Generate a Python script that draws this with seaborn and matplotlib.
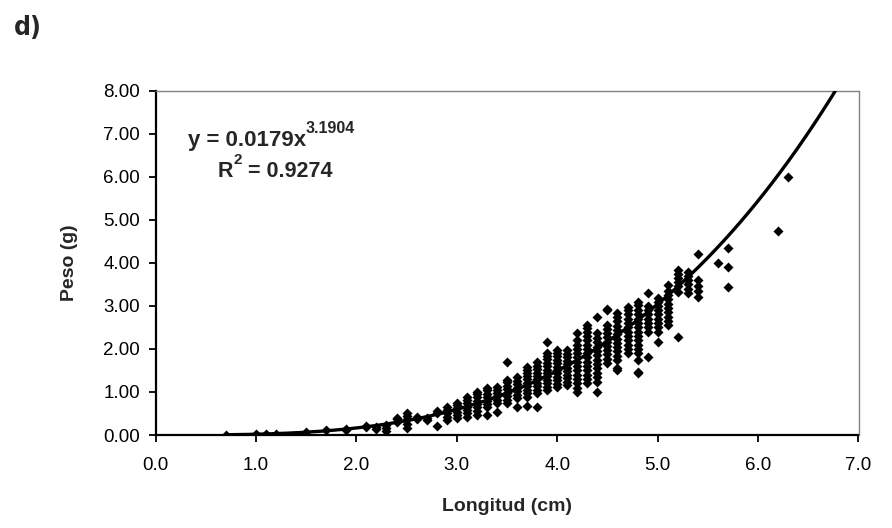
import numpy as np
import pandas as pd
import matplotlib
matplotlib.use("Agg")
import matplotlib.pyplot as plt
import seaborn as sns

########
# Data
########
# length classes (cm) and the weights (g) read off each column of diamonds
col_longitud = [0.7, 1.0, 1.1, 1.2, 1.5, 1.7, 1.9, 2.1, 2.2, 2.3, 2.4, 2.5, 2.6, 2.7, 2.8, 2.9,
                3.0, 3.1, 3.2, 3.3, 3.4, 3.5, 3.6, 3.7, 3.8, 3.9,
                4.0, 4.1, 4.2, 4.3, 4.4, 4.5, 4.6, 4.7, 4.8, 4.9,
                5.0, 5.1, 5.2, 5.3, 5.4, 5.6, 5.7, 6.2, 6.3]
col_peso = [
    [0.01], [0.02], [0.03], [0.03], [0.06], [0.12], [0.12, 0.15],
    [0.19, 0.22], [0.14, 0.19], [0.10, 0.17, 0.24],
    [0.31, 0.36, 0.40],
    [0.16, 0.25, 0.38, 0.45, 0.51],
    [0.37, 0.42], [0.34, 0.40], [0.22, 0.50, 0.56],
    [0.35, 0.42, 0.50, 0.58, 0.66],
    [0.39, 0.46, 0.54, 0.62, 0.70, 0.74],
    [0.42, 0.50, 0.58, 0.66, 0.74, 0.82, 0.88],
    [0.46, 0.55, 0.64, 0.72, 0.80, 0.88, 0.96, 1.00],
    [0.46, 0.65, 0.72, 0.80, 0.88, 0.96, 1.04, 1.09],
    [0.54, 0.74, 0.82, 0.90, 0.98, 1.05, 1.11],
    [0.74, 0.82, 0.90, 0.98, 1.06, 1.14, 1.22, 1.28, 1.70],
    [0.66, 0.86, 0.94, 1.02, 1.10, 1.18, 1.26, 1.35],
    [0.68, 0.89, 0.97, 1.05, 1.13, 1.21, 1.29, 1.37, 1.45, 1.52, 1.59],
    [0.66, 0.97, 1.05, 1.13, 1.21, 1.29, 1.37, 1.45, 1.53, 1.61, 1.70],
    [1.04, 1.12, 1.20, 1.28, 1.36, 1.44, 1.52, 1.60, 1.68, 1.76, 1.84, 1.90, 2.17],
    [1.11, 1.19, 1.27, 1.35, 1.43, 1.51, 1.59, 1.67, 1.75, 1.83, 1.91, 1.97],
    [1.16, 1.24, 1.32, 1.40, 1.48, 1.56, 1.64, 1.72, 1.80, 1.88, 1.97],
    [1.00, 1.09, 1.20, 1.30, 1.40, 1.50, 1.60, 1.70, 1.80, 1.90, 2.00, 2.10, 2.20, 2.37],
    [1.20, 1.30, 1.40, 1.50, 1.60, 1.70, 1.80, 1.90, 2.00, 2.10, 2.20, 2.30, 2.40, 2.48, 2.55],
    [1.00, 1.24, 1.35, 1.45, 1.55, 1.65, 1.75, 1.85, 1.95, 2.05, 2.15, 2.25, 2.37, 2.75],
    [1.67, 1.77, 1.87, 1.97, 2.07, 2.17, 2.27, 2.37, 2.47, 2.55, 2.90, 2.93],
    [1.51, 1.55, 1.74, 1.84, 1.94, 2.04, 2.14, 2.24, 2.34, 2.44, 2.54, 2.64, 2.74, 2.83],
    [1.90, 2.00, 2.10, 2.20, 2.30, 2.40, 2.50, 2.60, 2.70, 2.80, 2.90, 2.98],
    [1.44, 1.47, 1.74, 1.90, 2.00, 2.10, 2.20, 2.30, 2.40, 2.50, 2.60, 2.70, 2.80, 2.90, 3.03, 3.10],
    [1.82, 2.40, 2.50, 2.60, 2.70, 2.80, 2.90, 3.00, 3.29],
    [2.17, 2.40, 2.50, 2.60, 2.70, 2.80, 2.90, 3.00, 3.10, 3.18],
    [2.55, 2.65, 2.75, 2.85, 2.95, 3.05, 3.15, 3.25, 3.35, 3.48],
    [2.28, 3.33, 3.45, 3.55, 3.65, 3.75, 3.83],
    [3.30, 3.40, 3.50, 3.60, 3.70, 3.79],
    [3.20, 3.35, 3.45, 3.60, 4.20],
    [4.00], [3.44, 3.91, 4.34], [4.74], [6.00],
]

# fitted power trendline shown on the chart
coef_a = 0.0179
coef_b = 3.1904
r2 = 0.9274
trend_from, trend_to = 0.7, 6.8

x_ticks = [0, 1, 2, 3, 4, 5, 6, 7]
y_ticks = [0, 1, 2, 3, 4, 5, 6, 7, 8]

rows = [(x, y) for x, ys in zip(col_longitud, col_peso) for y in ys]
df = pd.DataFrame(rows, columns=["longitud", "peso"])

trend_x = np.linspace(trend_from, trend_to, 300)
trend_df = pd.DataFrame({"longitud": trend_x, "peso": coef_a * trend_x ** coef_b})

########
# Plot
########
sns.set_theme(style="ticks")
plt.rcParams["font.family"] = ["Liberation Sans", "DejaVu Sans"]

fig = plt.figure(figsize=(8.92, 5.28), dpi=100)
ax = fig.add_axes([155.5 / 892, 93 / 528, 703 / 892, 344.5 / 528])

sns.scatterplot(data=df, x="longitud", y="peso", marker="D", s=26,
                color="black", linewidth=0, ax=ax, zorder=3)
sns.lineplot(data=trend_df, x="longitud", y="peso", color="black",
             linewidth=2.4, sort=False, estimator=None, ax=ax, zorder=4)

ax.set_xlim(0, 7)
ax.set_ylim(0, 8)
ax.set_xticks(x_ticks)
ax.set_yticks(y_ticks)
ax.set_xticklabels([f"{v:.1f}" for v in x_ticks])
ax.set_yticklabels([f"{v:.2f}" for v in y_ticks])
ax.tick_params(direction="out", length=5, width=1.3, colors="black",
               labelsize=13.5)
ax.tick_params(axis="x", pad=11)
ax.tick_params(axis="y", pad=6)

for side in ["left", "bottom"]:
    ax.spines[side].set_color("black")
    ax.spines[side].set_linewidth(1.6)
for side in ["top", "right"]:
    ax.spines[side].set_visible(True)
    ax.spines[side].set_color("#808080")
    ax.spines[side].set_linewidth(1.0)

ax.set_xlabel("Longitud (cm)", fontsize=14, fontweight="bold")
ax.set_ylabel("Peso (g)", fontsize=14, fontweight="bold")
ax.xaxis.set_label_coords(0.5, -0.183)
ax.yaxis.set_label_coords(-0.11, 0.5)

# trendline equation, superscripts as separate small texts
eq = ax.text(0.046, 0.856, f"y = {coef_a}x", transform=ax.transAxes,
             fontsize=16, fontweight="bold", va="center", ha="left")
ax.annotate(f"{coef_b}", xy=(1.0, 0.7), xycoords=eq, fontsize=11.5,
            fontweight="bold", va="bottom", ha="left")
r_lab = ax.text(0.089, 0.766, "R", transform=ax.transAxes,
                fontsize=15.5, fontweight="bold", va="center", ha="left")
r_sup = ax.annotate("2", xy=(1.0, 0.7), xycoords=r_lab, fontsize=11,
                    fontweight="bold", va="bottom", ha="left")
ax.annotate(f" = {r2}", xy=(1.0, 0.0), xycoords=(r_sup, r_lab), fontsize=15.5,
            fontweight="bold", va="bottom", ha="left")

fig.text(28 / 892, 1 - 28 / 528, "d)", fontsize=19, fontweight="heavy",
         fontstretch="condensed", family="DejaVu Sans", ha="center", va="center")

plt.savefig("out.png", dpi=100)
